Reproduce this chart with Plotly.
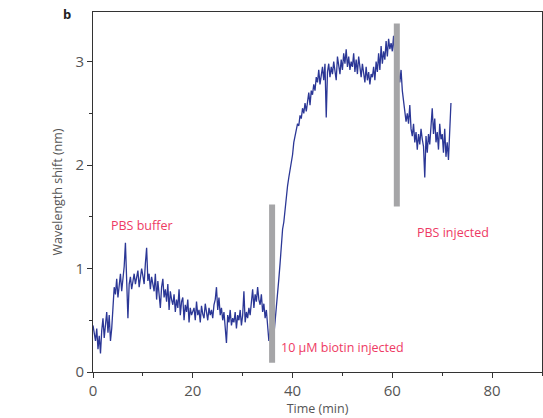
import plotly.graph_objects as go

# time step 0.25 min, starting at 0
t_step = 0.25
shift_nm = [
    # 0.00 - 3.75
    0.45, 0.38, 0.30, 0.42, 0.22, 0.35, 0.18, 0.40, 0.52, 0.33, 0.48, 0.58, 0.38, 0.55, 0.30, 0.42,
    # 4.00 - 7.75
    0.62, 0.82, 0.75, 0.90, 0.72, 0.86, 0.95, 0.78, 0.88, 1.02, 1.25, 0.80, 0.52, 0.85, 0.92, 0.80,
    # 8.00 - 11.75
    0.88, 0.95, 0.85, 0.92, 0.98, 0.82, 0.90, 1.00, 0.93, 0.85, 1.05, 1.20, 0.88, 0.95, 0.80, 0.92,
    # 12.00 - 15.75
    0.85, 0.78, 0.95, 0.70, 0.88, 0.75, 0.62, 0.82, 0.90, 0.72, 0.80, 0.68, 0.85, 0.60, 0.78, 0.70,
    # 16.00 - 19.75
    0.65, 0.75, 0.58, 0.70, 0.62, 0.80, 0.55, 0.68, 0.72, 0.50, 0.65, 0.58, 0.70, 0.48, 0.62, 0.55,
    # 20.00 - 23.75
    0.58, 0.62, 0.50, 0.68, 0.55, 0.60, 0.48, 0.64, 0.56, 0.52, 0.66, 0.58, 0.50, 0.62, 0.55, 0.60,
    # 24.00 - 27.75
    0.52, 0.65, 0.70, 0.82, 0.60, 0.72, 0.55, 0.62, 0.50, 0.58, 0.45, 0.28, 0.55, 0.48, 0.60, 0.45,
    # 28.00 - 31.75
    0.52, 0.48, 0.58, 0.42, 0.55, 0.50, 0.60, 0.45, 0.55, 0.78, 0.48, 0.58, 0.52, 0.62, 0.55, 0.68,
    # 32.00 - 35.75
    0.80, 0.62, 0.75, 0.68, 0.82, 0.70, 0.65, 0.75, 0.58, 0.66, 0.52, 0.60, 0.48, 0.30, 0.42, 0.18,
    # 36.00 - 39.75
    0.22, 0.35, 0.48, 0.58, 0.75, 0.90, 1.05, 1.22, 1.38, 1.45, 1.58, 1.68, 1.80, 1.88, 1.95, 2.00,
    # 40.00 - 43.75
    2.10, 2.22, 2.28, 2.35, 2.40, 2.38, 2.48, 2.45, 2.55, 2.50, 2.60, 2.52, 2.62, 2.70, 2.58, 2.72,
    # 44.00 - 47.75
    2.68, 2.78, 2.72, 2.85, 2.80, 2.92, 2.78, 2.88, 2.95, 2.82, 2.98, 2.46, 2.90, 2.98, 2.85, 2.95,
    # 48.00 - 51.75
    2.88, 3.00, 2.92, 2.82, 3.05, 2.95, 2.88, 3.02, 2.92, 3.08, 2.98, 3.12, 2.95, 3.05, 2.92, 3.00,
    # 52.00 - 55.75
    2.95, 3.08, 2.90, 3.02, 2.88, 3.05, 2.92, 2.85, 2.98, 2.88, 2.80, 2.95, 2.82, 2.90, 2.78, 2.88,
    # 56.00 - 59.75
    2.85, 2.95, 2.82, 3.00, 2.90, 3.08, 2.92, 3.15, 2.98, 3.10, 3.02, 3.20, 3.05, 3.22, 3.12, 3.18,
    # 60.00 - 60.75
    3.10, 3.25, 3.05, 3.00,
    # 61.00 - 63.75
    2.95, 2.90, 2.80, 2.92, 2.72, 2.62, 2.55, 2.42, 2.50, 2.40, 2.58, 2.35,
    # 64.00 - 67.75
    2.28, 2.40, 2.22, 2.32, 2.15, 2.30, 2.20, 2.35, 2.25, 2.18, 1.88, 2.28, 2.12, 2.30, 2.20, 2.38,
    # 68.00 - 71.75
    2.55, 2.30, 2.45, 2.22, 2.32, 2.15, 2.40, 2.25, 2.30, 2.12, 2.35, 2.08, 2.22, 2.05, 2.30, 2.60,
]
time_min = [i * t_step for i in range(len(shift_nm))]

# injection markers (gray bars)
bar_x = [35.9, 60.9]
bar_y0 = [0.09, 1.60]
bar_y1 = [1.62, 3.37]

# annotation labels
label_text = ["PBS buffer", "10 μM biotin injected", "PBS injected"]
label_x = [3.3, 37.2, 64.5]
label_y = [1.42, 0.24, 1.35]

x_ticks = [0, 20, 40, 60, 80]
y_ticks = [0, 1, 2, 3]

fig = go.Figure()
fig.add_trace(go.Scatter(x=time_min, y=shift_nm, mode="lines",
                         line=dict(color="#2b3796", width=1.3), showlegend=False,
                         hoverinfo="skip"))
for bx, b0, b1 in zip(bar_x, bar_y0, bar_y1):
    fig.add_trace(go.Scatter(x=[bx, bx], y=[b0, b1], mode="lines",
                             line=dict(color="#a5a5a7", width=6), showlegend=False,
                             hoverinfo="skip"))

for txt, lx, ly in zip(label_text, label_x, label_y):
    fig.add_annotation(x=lx, y=ly, text=txt, showarrow=False, xanchor="left",
                       font=dict(color="#ee3a64", size=12.5, family="Open Sans"))

fig.add_annotation(x=-0.058, y=0.995, xref="paper", yref="paper", text="<b>b</b>",
                   showarrow=False, xanchor="center", yanchor="middle",
                   font=dict(color="#222", size=13, family="Open Sans"))

axis_common = dict(showline=True, linecolor="#333", linewidth=1, mirror=True,
                   ticks="outside", tickcolor="#333", ticklen=5, tickwidth=1,
                   showgrid=False, zeroline=False,
                   tickfont=dict(color="#555", size=15, family="Open Sans"))

fig.update_xaxes(range=[0, 90], tickvals=x_ticks,
                 minor=dict(ticks="outside", dtick=10, tick0=0, ticklen=3, tickcolor="#333"),
                 title=dict(text="Time (min)", standoff=4,
                            font=dict(color="#555", size=12.5, family="Open Sans")),
                 **axis_common)
fig.update_yaxes(range=[0, 3.48], tickvals=y_ticks,
                 minor=dict(ticks="outside", dtick=0.5, tick0=0, ticklen=3, tickcolor="#333"),
                 title=dict(text="Wavelength shift (nm)", standoff=10,
                            font=dict(color="#555", size=12.5, family="Open Sans")),
                 **axis_common)

fig.update_layout(width=543, height=418, margin=dict(l=93, r=1, t=12, b=46),
                  plot_bgcolor="white", paper_bgcolor="white")

fig.write_html("out.html")
